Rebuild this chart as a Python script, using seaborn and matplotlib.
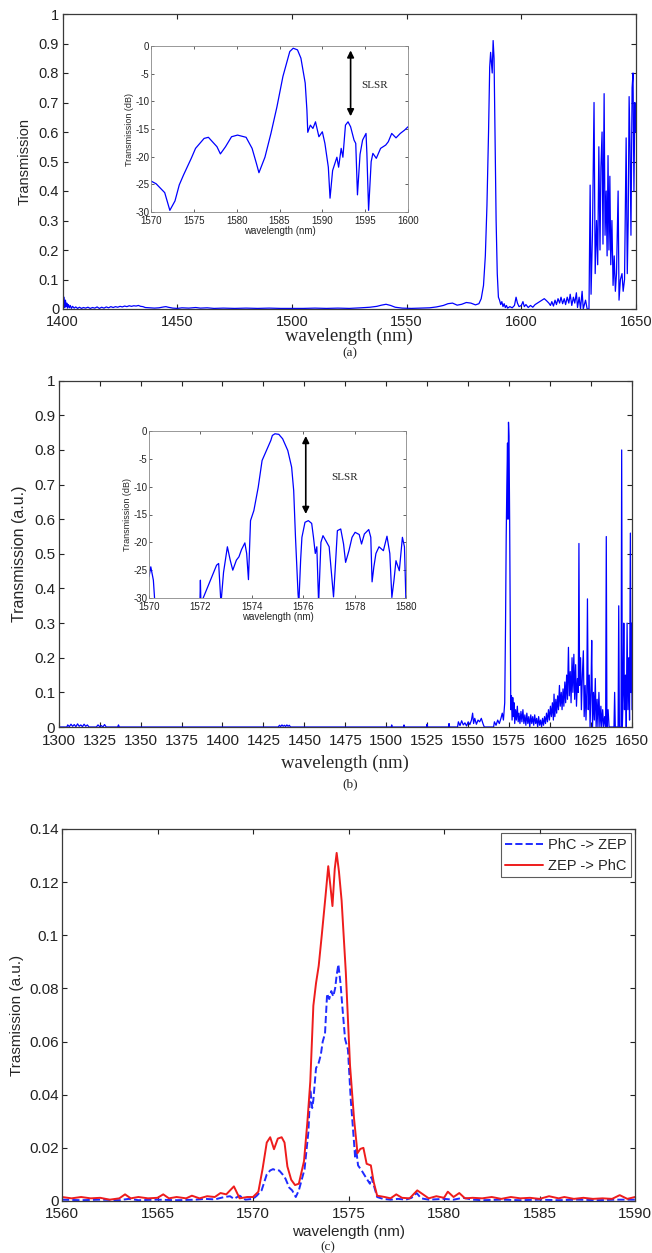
import matplotlib
matplotlib.use("Agg")
import matplotlib.pyplot as plt
import seaborn as sns
import numpy as np
import pandas as pd

# ---------------- data: panel (a) main ----------------
wl_a = [1400.0, 1400.3, 1400.6, 1400.9, 1401.2, 1401.5, 1401.8, 1402.1, 1402.5, 1402.9, 1403.3, 1403.8, 1404.3,
        1405, 1405.7, 1406.5, 1407.3, 1408.2, 1409, 1410, 1411, 1412, 1413, 1414, 1415, 1416, 1417, 1418, 1419,
        1420, 1421, 1422, 1423, 1424, 1425, 1426, 1427, 1428, 1429, 1430, 1431, 1432, 1433, 1434, 1435, 1436,
        1438, 1440, 1442, 1444, 1445, 1446, 1448, 1450, 1452, 1455, 1458, 1460, 1463, 1466, 1470, 1475, 1480,
        1485, 1490, 1495, 1500, 1505, 1510, 1515, 1520, 1525, 1530, 1534, 1537, 1539, 1541, 1543, 1545, 1548,
        1552, 1556, 1560, 1563, 1566, 1568, 1570, 1572, 1574, 1576, 1578, 1580, 1581.5, 1582.5, 1583.5, 1584.3,
        1585, 1585.7, 1586.2, 1586.6, 1587.0, 1587.3, 1587.7, 1588.1, 1588.5, 1589, 1589.5, 1590, 1590.5, 1591,
        1591.5, 1592, 1592.5, 1593, 1593.5, 1594, 1595, 1596, 1597, 1597.7, 1598.3, 1599, 1600, 1600.7, 1601.3,
        1602, 1603, 1604, 1605, 1606, 1607, 1608, 1609, 1610, 1611, 1612, 1612.7, 1613.3, 1614, 1614.7, 1615.3,
        1616, 1616.7, 1617.3, 1618, 1618.7, 1619.3, 1620, 1620.7, 1621.3, 1622, 1622.7, 1623.3, 1624, 1624.5,
        1625.2, 1625.8, 1626.5, 1627, 1628, 1628.7, 1629.5, 1630, 1630.4, 1631, 1631.7, 1632.2, 1632.8, 1633.3,
        1633.8, 1634.3, 1634.7, 1635.2, 1635.6, 1636.1, 1636.5, 1637, 1637.4, 1637.8, 1638.2, 1638.6, 1639,
        1639.5, 1640, 1640.5, 1641, 1641.5, 1642.2, 1642.6, 1643.2, 1643.9, 1644.4, 1645, 1645.7, 1646.2,
        1646.6, 1647, 1647.4, 1647.8, 1648.3, 1648.7, 1649.1, 1649.5, 1649.9]
tr_a = [0.055, 0.01, 0.04, 0.005, 0.03, 0.008, 0.02, 0.003, 0.015, 0.004, 0.012, 0.002, 0.009,
        0.003, 0.007, 0.002, 0.006, 0.002, 0.005, 0.003, 0.006, 0.002, 0.005, 0.003, 0.007, 0.002, 0.006, 0.003, 0.007,
        0.004, 0.008, 0.005, 0.008, 0.006, 0.009, 0.007, 0.010, 0.008, 0.011, 0.009, 0.011, 0.010, 0.012, 0.009, 0.008, 0.005,
        0.004, 0.003, 0.004, 0.007, 0.008, 0.006, 0.003, 0.002, 0.004, 0.003, 0.005, 0.003, 0.004, 0.002, 0.003, 0.002, 0.003,
        0.002, 0.003, 0.002, 0.002, 0.002, 0.003, 0.002, 0.003, 0.002, 0.004, 0.006, 0.009, 0.013, 0.016, 0.012, 0.006, 0.003,
        0.002, 0.003, 0.004, 0.007, 0.012, 0.018, 0.02, 0.013, 0.016, 0.022, 0.02, 0.014, 0.018, 0.035, 0.08, 0.18,
        0.35, 0.6, 0.82, 0.87, 0.83, 0.80, 0.91, 0.85, 0.6, 0.3, 0.12, 0.04, 0.03, 0.015,
        0.025, 0.008, 0.018, 0.005, 0.012, 0.003, 0.008, 0.004, 0.012, 0.04, 0.02, 0.008, 0.012, 0.025, 0.008,
        0.015, 0.005, 0.012, 0.006, 0.015, 0.02, 0.025, 0.03, 0.035, 0.028, 0.02, 0.012, 0.025, 0.01, 0.03, 0.015,
        0.035, 0.02, 0.04, 0.018, 0.035, 0.015, 0.04, 0.02, 0.05, 0.012, 0.04, 0.02, 0.055, 0.005,
        0.04, 0.0, 0.06, 0.0, 0.03, 0.0, 0.0, 0.42, 0.05, 0.25, 0.7, 0.12, 0.3, 0.15,
        0.55, 0.2, 0.48, 0.6, 0.22, 0.73, 0.25, 0.4, 0.18, 0.52, 0.2, 0.45, 0.15,
        0.3, 0.08, 0.18, 0.06, 0.12, 0.4, 0.03, 0.1, 0.12, 0.06, 0.1, 0.58, 0.12,
        0.3, 0.72, 0.55, 0.25, 0.75, 0.8, 0.4, 0.7, 0.6]

# ---------------- data: panel (a) inset (dB) ----------------
wl_ai = [1570.0, 1570.6, 1571.6, 1572.2, 1572.8, 1573.3, 1573.8, 1574.7, 1575.2, 1576.2, 1576.7, 1577.7, 1578.1,
         1578.7, 1579.4, 1580.1, 1581.1, 1581.8, 1582.3, 1582.6, 1583.3, 1584.0, 1584.7, 1585.4, 1586.2, 1586.6,
         1587.1, 1587.5, 1588.0, 1588.2, 1588.3, 1588.6, 1588.9, 1589.2, 1589.6, 1590.0, 1590.3, 1590.7, 1590.9,
         1591.2, 1591.7, 1591.9, 1592.2, 1592.4, 1592.7, 1593.0, 1593.3, 1593.7, 1593.9, 1594.1, 1594.4, 1594.7,
         1595.1, 1595.2, 1595.4, 1595.7, 1595.9, 1596.3, 1596.8, 1597.4, 1597.7, 1598.1, 1598.6, 1599.1, 1599.6, 1600.0]
db_ai = [-24.4, -24.9, -26.5, -29.7, -28.0, -25.1, -23.3, -20.3, -18.5, -16.7, -16.5, -18.2, -19.5,
         -18.2, -16.4, -16.1, -16.5, -18.5, -21.2, -22.9, -20.1, -15.8, -11.0, -5.5, -1.0, -0.4,
         -0.7, -2.2, -6.7, -11.6, -15.6, -14.3, -14.9, -13.7, -16.4, -15.5, -17.6, -21.9, -27.5,
         -22.5, -20.1, -21.9, -18.5, -20.1, -14.3, -13.7, -14.6, -17.0, -17.6, -26.9, -19.6, -17.0,
         -15.8, -19.4, -29.7, -20.9, -19.4, -20.3, -18.5, -17.9, -17.3, -15.8, -16.6, -15.8, -15.2, -14.6]

# ---------------- data: panel (b) main ----------------
wl_b = [1300, 1305, 1305.5, 1306.5, 1307.5, 1308.5, 1309.5, 1310.5, 1311.5, 1312.5, 1313.5, 1314.5, 1315.5,
        1316.5, 1317.5, 1318.5, 1323, 1324, 1325, 1326, 1327, 1328, 1329, 1336, 1336.5, 1337, 1434, 1434.8,
        1435.5, 1436.3, 1437, 1437.8, 1438.5, 1439.3, 1440, 1440.8, 1441.5, 1503, 1503.3, 1503.6, 1510.5, 1510.8,
        1511.1, 1524.6, 1524.9, 1525.2, 1538, 1538.3, 1538.6, 1543.5, 1544, 1545, 1546, 1547, 1548, 1549, 1550,
        1551, 1552, 1552.7, 1553.3, 1554, 1555, 1556, 1557, 1558, 1559, 1559.8, 1565.5, 1566, 1567, 1568, 1569,
        1570, 1570.8, 1571.5, 1572.3, 1572.8, 1573.2, 1573.6, 1574, 1574.3, 1574.6, 1574.9, 1575.3, 1575.7, 1576,
        1576.4, 1576.8, 1577.2, 1577.6, 1578, 1578.4, 1578.9, 1579.4, 1580, 1580.5, 1581, 1581.6, 1582.2, 1582.8,
        1583.4, 1584, 1584.6, 1585.2, 1585.8, 1586.4, 1587, 1587.6, 1588.2, 1588.8, 1589.4, 1590, 1590.6, 1591.2,
        1591.8, 1592.4, 1593, 1593.6, 1594.2, 1594.8, 1595.4, 1596, 1596.6, 1597.2, 1597.8, 1598.4, 1599, 1599.6,
        1600.2, 1600.8, 1601.4, 1602, 1602.4, 1602.9, 1603.5, 1604, 1604.6, 1605.1, 1605.7, 1606.2, 1606.8, 1607.3,
        1607.9, 1608.4, 1609, 1609.5, 1610.1, 1610.6, 1611.2, 1611.7, 1612.3, 1612.8, 1613.4, 1613.9, 1614.5, 1615,
        1615.6, 1616.1, 1616.7, 1617.2, 1617.6, 1618, 1618.6, 1619.1, 1619.7, 1620.3, 1620.8, 1621.4, 1621.9,
        1622.4, 1622.8, 1623.3, 1623.9, 1624.4, 1625, 1625.4, 1625.9, 1626.5, 1627, 1627.6, 1628.1, 1628.7,
        1629.2, 1629.8, 1630.4, 1631, 1631.5, 1632.1, 1632.7, 1633.3, 1633.9, 1634.3, 1634.7, 1635.4, 1636, 1639,
        1639.4, 1639.8, 1641.5, 1641.9, 1642.3, 1643.3, 1643.7, 1644.1, 1644.6, 1645, 1645.4, 1646, 1646.5, 1647,
        1647.5, 1648, 1648.5, 1649, 1649.4, 1649.8, 1650]
tr_b = [0, 0, 0.006, 0.001, 0.008, 0.002, 0.007, 0.001, 0.009, 0.002, 0.006, 0.001, 0.008,
        0.002, 0.006, 0, 0, 0.006, 0.001, 0.004, 0, 0.007, 0, 0, 0.006, 0, 0, 0.005,
        0.001, 0.006, 0.002, 0.005, 0.001, 0.006, 0.002, 0.005, 0, 0, 0.006, 0, 0, 0.006,
        0, 0, 0.008, 0, 0, 0.01, 0, 0, 0.015, 0.004, 0.018, 0.006, 0.012, 0.003, 0.015,
        0.007, 0.02, 0.04, 0.01, 0.025, 0.008, 0.02, 0.015, 0.025, 0.01, 0, 0, 0.015, 0.005, 0.02, 0.01,
        0.025, 0.04, 0.02, 0.07, 0.3, 0.55, 0.7, 0.82, 0.6, 0.88, 0.84, 0.6, 0.3, 0.05,
        0.09, 0.02, 0.085, 0.03, 0.07, 0.01, 0.05, 0.02, 0.06, 0.015, 0.04, 0.01, 0.045, 0.015,
        0.05, 0.01, 0.035, 0.005, 0.04, 0.01, 0.03, 0.0, 0.035, 0.01, 0.03, 0.005, 0.035, 0.01,
        0.025, 0.0, 0.03, 0.005, 0.02, 0.0, 0.025, 0.005, 0.03, 0.01, 0.04, 0.015, 0.05, 0.02,
        0.06, 0.03, 0.07, 0.02, 0.095, 0.03, 0.08, 0.04, 0.09, 0.05, 0.12, 0.06, 0.1, 0.05,
        0.11, 0.06, 0.13, 0.07, 0.15, 0.08, 0.23, 0.09, 0.16, 0.07, 0.2, 0.1, 0.21, 0.08,
        0.18, 0.06, 0.14, 0.1, 0.53, 0.12, 0.2, 0.05, 0.15, 0.22, 0.03, 0.12, 0.02,
        0.1, 0.37, 0.05, 0.15, 0.0, 0.12, 0.25, 0.0, 0.1, 0.02, 0.14, 0.0, 0.08,
        0.0, 0.1, 0.0, 0.06, 0.0, 0.05, 0.0, 0.03, 0.0, 0.55, 0.0, 0.05, 0.0, 0.0,
        0.1, 0.0, 0.0, 0.35, 0.0, 0.0, 0.8, 0.0, 0.1, 0.3, 0.05, 0.15, 0.0, 0.3,
        0.05, 0.2, 0.02, 0.56, 0.1, 0.3, 0.05]

# ---------------- data: panel (b) inset (dB) ----------------
wl_bi = [1570.0, 1570.07, 1570.17, 1570.23, 1571.98, 1572.0, 1572.02, 1572.63, 1572.71, 1572.8, 1572.9, 1573.05,
         1573.16, 1573.26, 1573.4, 1573.5, 1573.6, 1573.73, 1573.8, 1573.87, 1573.95, 1574.08, 1574.25, 1574.4,
         1574.57, 1574.74, 1574.8, 1574.9, 1575.05, 1575.2, 1575.4, 1575.55, 1575.63, 1575.7, 1575.8, 1575.83,
         1575.9, 1575.95, 1576.07, 1576.2, 1576.33, 1576.4, 1576.47, 1576.53, 1576.6, 1576.69, 1576.77, 1576.88,
         1577.01, 1577.18, 1577.25, 1577.33, 1577.46, 1577.57, 1577.65, 1577.78, 1577.9, 1578.02, 1578.18,
         1578.27, 1578.38, 1578.55, 1578.63, 1578.68, 1578.75, 1578.83, 1578.95, 1579.12, 1579.26, 1579.37,
         1579.45, 1579.53, 1579.61, 1579.74, 1579.86, 1579.94, 1580.0]
db_bi = [-26.2, -24.4, -26.8, -31.0, -31.0, -26.8, -31.0, -24.1, -23.8, -31.0, -25.4, -20.8,
         -23.2, -25.0, -23.2, -22.6, -21.3, -20.1, -22.0, -26.7, -16.1, -14.3, -10.1, -5.3,
         -3.5, -1.7, -0.8, -0.5, -0.6, -1.4, -3.5, -6.5, -10.7, -19.1, -29.3, -31.0,
         -23.2, -19.1, -16.4, -16.1, -16.6, -19.1, -22.0, -20.8, -31.0, -20.0, -18.8, -19.7,
         -20.8, -29.8, -24.4, -17.9, -17.6, -20.3, -23.6, -21.5, -19.1, -18.2, -18.6,
         -20.3, -18.5, -17.7, -19.1, -27.1, -24.4, -22.0, -20.8, -21.5, -18.9, -22.0,
         -29.9, -26.9, -23.3, -25.1, -19.1, -20.8, -31.0]

# ---------------- data: panel (c) ----------------
wl_c_red = [1560, 1560.5, 1561, 1561.5, 1562, 1562.5, 1563, 1563.3, 1563.6, 1564, 1564.5, 1565, 1565.3, 1565.6,
            1566, 1566.5, 1566.8, 1567.2, 1567.6, 1568, 1568.3, 1568.6, 1569, 1569.3, 1569.7, 1570, 1570.28,
            1570.5, 1570.72, 1570.9, 1571.1, 1571.3, 1571.5, 1571.65, 1571.8, 1572.0, 1572.2, 1572.4, 1572.67,
            1572.85, 1573.0, 1573.16, 1573.3, 1573.44, 1573.6, 1573.8, 1573.94, 1574.06, 1574.16, 1574.28,
            1574.38, 1574.5, 1574.64, 1574.86, 1575.08, 1575.29, 1575.47, 1575.62, 1575.78, 1575.95, 1576.17,
            1576.32, 1576.5, 1576.9, 1577.2, 1577.5, 1577.8, 1578.2, 1578.6, 1578.9, 1579.2, 1579.6, 1580,
            1580.2, 1580.5, 1580.8, 1581.1, 1581.5, 1582, 1582.5, 1583, 1583.5, 1584, 1584.5, 1585, 1585.5,
            1586, 1586.3, 1586.8, 1587.3, 1587.8, 1588.3, 1588.8, 1589.2, 1589.6, 1590]
tr_c_red = [0.0015, 0.001, 0.0015, 0.001, 0.0012, 0.0005, 0.001, 0.0025, 0.001, 0.0015, 0.001, 0.0012, 0.0025, 0.001,
            0.0015, 0.001, 0.002, 0.001, 0.0018, 0.0015, 0.003, 0.0025, 0.0055, 0.001, 0.0015, 0.0015, 0.0035,
            0.012, 0.022, 0.024, 0.0195, 0.0235, 0.024, 0.022, 0.013, 0.008, 0.006, 0.0065, 0.015,
            0.03, 0.045, 0.0735, 0.082, 0.0885, 0.1, 0.115, 0.126, 0.118, 0.111, 0.125,
            0.131, 0.124, 0.113, 0.086, 0.051, 0.031, 0.018, 0.0196, 0.02, 0.014, 0.0134,
            0.0071, 0.002, 0.0015, 0.001, 0.0025, 0.0012, 0.001, 0.004, 0.0025, 0.001, 0.0018, 0.0012,
            0.0035, 0.0015, 0.003, 0.001, 0.0012, 0.001, 0.0015, 0.0008, 0.0015, 0.001, 0.0012, 0.0008, 0.0018,
            0.001, 0.0015, 0.0008, 0.0012, 0.0008, 0.001, 0.0008, 0.0022, 0.0008, 0.0015]
wl_c_blue = [1560, 1561, 1562, 1563, 1563.5, 1564, 1565, 1566, 1567, 1567.5, 1568, 1568.5, 1568.8, 1569, 1569.3,
             1569.6, 1570, 1570.2, 1570.45, 1570.72, 1570.9, 1571.05, 1571.2, 1571.37, 1571.55, 1571.7, 1571.9,
             1572.05, 1572.24, 1572.4, 1572.55, 1572.7, 1572.9, 1573.0, 1573.1, 1573.16, 1573.3, 1573.44,
             1573.55, 1573.65, 1573.77, 1573.88, 1573.99, 1574.1, 1574.2, 1574.3, 1574.38, 1574.47, 1574.58,
             1574.68, 1574.82, 1574.97, 1575.12, 1575.29, 1575.35, 1575.4, 1575.5, 1575.73, 1575.95, 1576.12,
             1576.2, 1576.28, 1576.5, 1576.8, 1577.2, 1577.6, 1578, 1578.3, 1578.57, 1578.8, 1579.2, 1580,
             1580.5, 1581, 1581.5, 1582, 1583, 1584, 1585, 1586, 1587, 1588, 1589, 1590]
tr_c_blue = [0.0005, 0.0003, 0.0005, 0.0003, 0.0008, 0.0003, 0.0005, 0.0003, 0.0005, 0.0008, 0.0006, 0.0015, 0.0018,
             0.0008, 0.002, 0.0005, 0.0008, 0.002, 0.004, 0.01, 0.0115, 0.012, 0.0115, 0.0115, 0.01, 0.0084, 0.005,
             0.004, 0.0015, 0.004, 0.008, 0.012, 0.026, 0.042, 0.035, 0.038, 0.05, 0.052,
             0.055, 0.06, 0.063, 0.078, 0.076, 0.079, 0.077, 0.08, 0.085, 0.089, 0.082,
             0.073, 0.061, 0.057, 0.038, 0.022, 0.016, 0.0196, 0.0134, 0.011, 0.0084, 0.0065,
             0.009, 0.007, 0.0015, 0.0008, 0.0005, 0.0008, 0.0005, 0.0012, 0.003, 0.001, 0.0005, 0.0008,
             0.0005, 0.0012, 0.0005, 0.0003, 0.0005, 0.0003, 0.0005, 0.0003, 0.0005, 0.0003, 0.0005, 0.0005]

# ticks / labels
xt_a = [1400, 1450, 1500, 1550, 1600, 1650]
xt_ai = [1570, 1575, 1580, 1585, 1590, 1595, 1600]
xt_b = list(range(1300, 1651, 25))
xt_bi = [1570, 1572, 1574, 1576, 1578, 1580]
yt_main = [0, 0.1, 0.2, 0.3, 0.4, 0.5, 0.6, 0.7, 0.8, 0.9, 1.0]
yt_main_lbl = ["0", "0.1", "0.2", "0.3", "0.4", "0.5", "0.6", "0.7", "0.8", "0.9", "1"]
yt_db = [-30, -25, -20, -15, -10, -5, 0]
yt_c = [0, 0.02, 0.04, 0.06, 0.08, 0.10, 0.12, 0.14]
yt_c_lbl = ["0", "0.02", "0.04", "0.06", "0.08", "0.1", "0.12", "0.14"]
xt_c = [1560, 1565, 1570, 1575, 1580, 1585, 1590]

# SLSR arrows (data coords of inset)
slsr_a = dict(x=1593.3, top=-0.3, bottom=-13.2, tx=1594.6, ty=-7.2)
slsr_b = dict(x=1576.1, top=-0.4, bottom=-15.4, tx=1577.1, ty=-8.4)

# ---------------- style ----------------
sns.set_theme(style="white")
plt.rcParams["font.family"] = ["Liberation Sans", "DejaVu Sans"]
plt.rcParams.update({
    "axes.unicode_minus": False,
    "axes.edgecolor": "#3a3a3a",
    "axes.linewidth": 0.9,
    "xtick.direction": "in",
    "ytick.direction": "in",
    "xtick.top": True,
    "ytick.right": True,
    "xtick.bottom": True,
    "ytick.left": True,
    "xtick.color": "#222222",
    "ytick.color": "#222222",
    "xtick.major.size": 3.5,
    "ytick.major.size": 3.5,
    "xtick.major.width": 0.8,
    "ytick.major.width": 0.8,
    "xtick.major.pad": 4.6,
    "ytick.major.pad": 2.5,
    "axes.facecolor": "white",
    "figure.facecolor": "white",
})

W, H = 652, 1253
fig = plt.figure(figsize=(W / 100, H / 100), dpi=100)


def px_axes(l, t, r, b):
    return fig.add_axes([l / W, 1 - b / H, (r - l) / W, (b - t) / H])


SERIF = ["Liberation Serif", "DejaVu Serif"]
BLUE = "#0000ff"


def style_main(ax, fs):
    for s in ax.spines.values():
        s.set_visible(True)
    ax.tick_params(labelsize=fs)
    ax.grid(False)


def style_inset(ax):
    for s in ax.spines.values():
        s.set_visible(True)
        s.set_linewidth(0.6)
        s.set_edgecolor("#888888")
    ax.tick_params(labelsize=7, length=2, width=0.5, pad=1.2)
    ax.tick_params(axis="x", pad=2.6)
    ax.grid(False)


# ---------------- panel (a) ----------------
axa = px_axes(62.7, 14, 636, 309)
sns.lineplot(x=wl_a, y=tr_a, ax=axa, color=BLUE, linewidth=0.9, estimator=None, sort=False)
axa.set_xlim(1400, 1650)
axa.set_ylim(0, 1)
axa.set_xticks(xt_a)
axa.set_yticks(yt_main)
axa.set_yticklabels(yt_main_lbl)
style_main(axa, 10.5)
axa.set_ylabel("Transmission", fontsize=10.5)
axa.yaxis.set_label_coords(-0.055, 0.5)
axa.set_xlabel("wavelength (nm)", fontsize=13.5, family=SERIF)
axa.xaxis.set_label_coords(0.5, -0.094)
axa.xaxis.label.set_va("center")
fig.text(350 / W, 1 - 353 / H, "(a)", family=SERIF, fontsize=9.5, ha="center", va="center")

axai = px_axes(151, 46, 408, 212)
sns.lineplot(x=wl_ai, y=db_ai, ax=axai, color=BLUE, linewidth=0.9, estimator=None, sort=False)
axai.set_xlim(1570, 1600)
axai.set_ylim(-30, 0)
axai.set_xticks(xt_ai)
axai.set_yticks(yt_db)
style_inset(axai)
axai.set_ylabel("Transmission (dB)", fontsize=6.5, labelpad=1)
axai.set_xlabel("wavelength (nm)", fontsize=7, labelpad=0)
axai.annotate("", xy=(slsr_a["x"], slsr_a["bottom"]), xytext=(slsr_a["x"], slsr_a["top"]),
              arrowprops=dict(arrowstyle="<|-|>", color="black", lw=1.2, mutation_scale=10))
axai.text(slsr_a["tx"], slsr_a["ty"], "SLSR", family=SERIF, fontsize=8, va="center")

# ---------------- panel (b) ----------------
axb = px_axes(58.7, 380.7, 632, 727)
sns.lineplot(x=wl_b, y=tr_b, ax=axb, color=BLUE, linewidth=0.9, estimator=None, sort=False)
axb.set_xlim(1300, 1650)
axb.set_ylim(0, 1)
axb.set_xticks(xt_b)
axb.set_yticks(yt_main)
axb.set_yticklabels(yt_main_lbl)
style_main(axb, 11)
axb.tick_params(axis="x", pad=5.2)
axb.set_ylabel("Transmission (a.u.)", fontsize=11.5)
axb.yaxis.set_label_coords(-0.055, 0.5)
axb.set_xlabel("wavelength (nm)", fontsize=13.5, family=SERIF)
axb.xaxis.set_label_coords(0.5, -0.104)
axb.xaxis.label.set_va("center")
fig.text(350 / W, 1 - 784 / H, "(b)", family=SERIF, fontsize=9.5, ha="center", va="center")

axbi = px_axes(149, 431, 406, 598)
sns.lineplot(x=wl_bi, y=db_bi, ax=axbi, color=BLUE, linewidth=0.9, estimator=None, sort=False)
axbi.set_xlim(1570, 1580)
axbi.set_ylim(-30, 0)
axbi.set_xticks(xt_bi)
axbi.set_yticks(yt_db)
style_inset(axbi)
axbi.set_ylabel("Transmission (dB)", fontsize=6.5, labelpad=1)
axbi.set_xlabel("wavelength (nm)", fontsize=7, labelpad=0)
axbi.annotate("", xy=(slsr_b["x"], slsr_b["bottom"]), xytext=(slsr_b["x"], slsr_b["top"]),
              arrowprops=dict(arrowstyle="<|-|>", color="black", lw=1.2, mutation_scale=10))
axbi.text(slsr_b["tx"], slsr_b["ty"], "SLSR", family=SERIF, fontsize=8, va="center")

# ---------------- panel (c) ----------------
axc = px_axes(62, 829, 635, 1201)
sns.lineplot(x=wl_c_blue, y=tr_c_blue, ax=axc, color="#1f2bff", linewidth=1.4, linestyle="--",
             estimator=None, sort=False, label="PhC -> ZEP")
sns.lineplot(x=wl_c_red, y=tr_c_red, ax=axc, color="#ee1c1c", linewidth=1.4,
             estimator=None, sort=False, label="ZEP -> PhC")
axc.set_xlim(1560, 1590)
axc.set_ylim(0, 0.14)
axc.set_xticks(xt_c)
axc.set_yticks(yt_c)
axc.set_yticklabels(yt_c_lbl)
style_main(axc, 11)
axc.set_ylabel("Trasmission (a.u.)", fontsize=11)
axc.yaxis.set_label_coords(-0.067, 0.5)
axc.set_xlabel("wavelength (nm)", fontsize=11)
axc.xaxis.set_label_coords(0.5, -0.084)
axc.xaxis.label.set_va("center")
leg = axc.legend(loc="upper right", fontsize=10.5, frameon=True, fancybox=False, handlelength=2.6,
                 borderaxespad=0.3, borderpad=0.3, labelspacing=0.5, handletextpad=0.3)
leg.get_frame().set_edgecolor("#333333")
leg.get_frame().set_linewidth(0.8)
fig.text(328 / W, 1 - 1247 / H, "(c)", family=SERIF, fontsize=9.5, ha="center", va="center")

fig.savefig("out.png", dpi=100)
